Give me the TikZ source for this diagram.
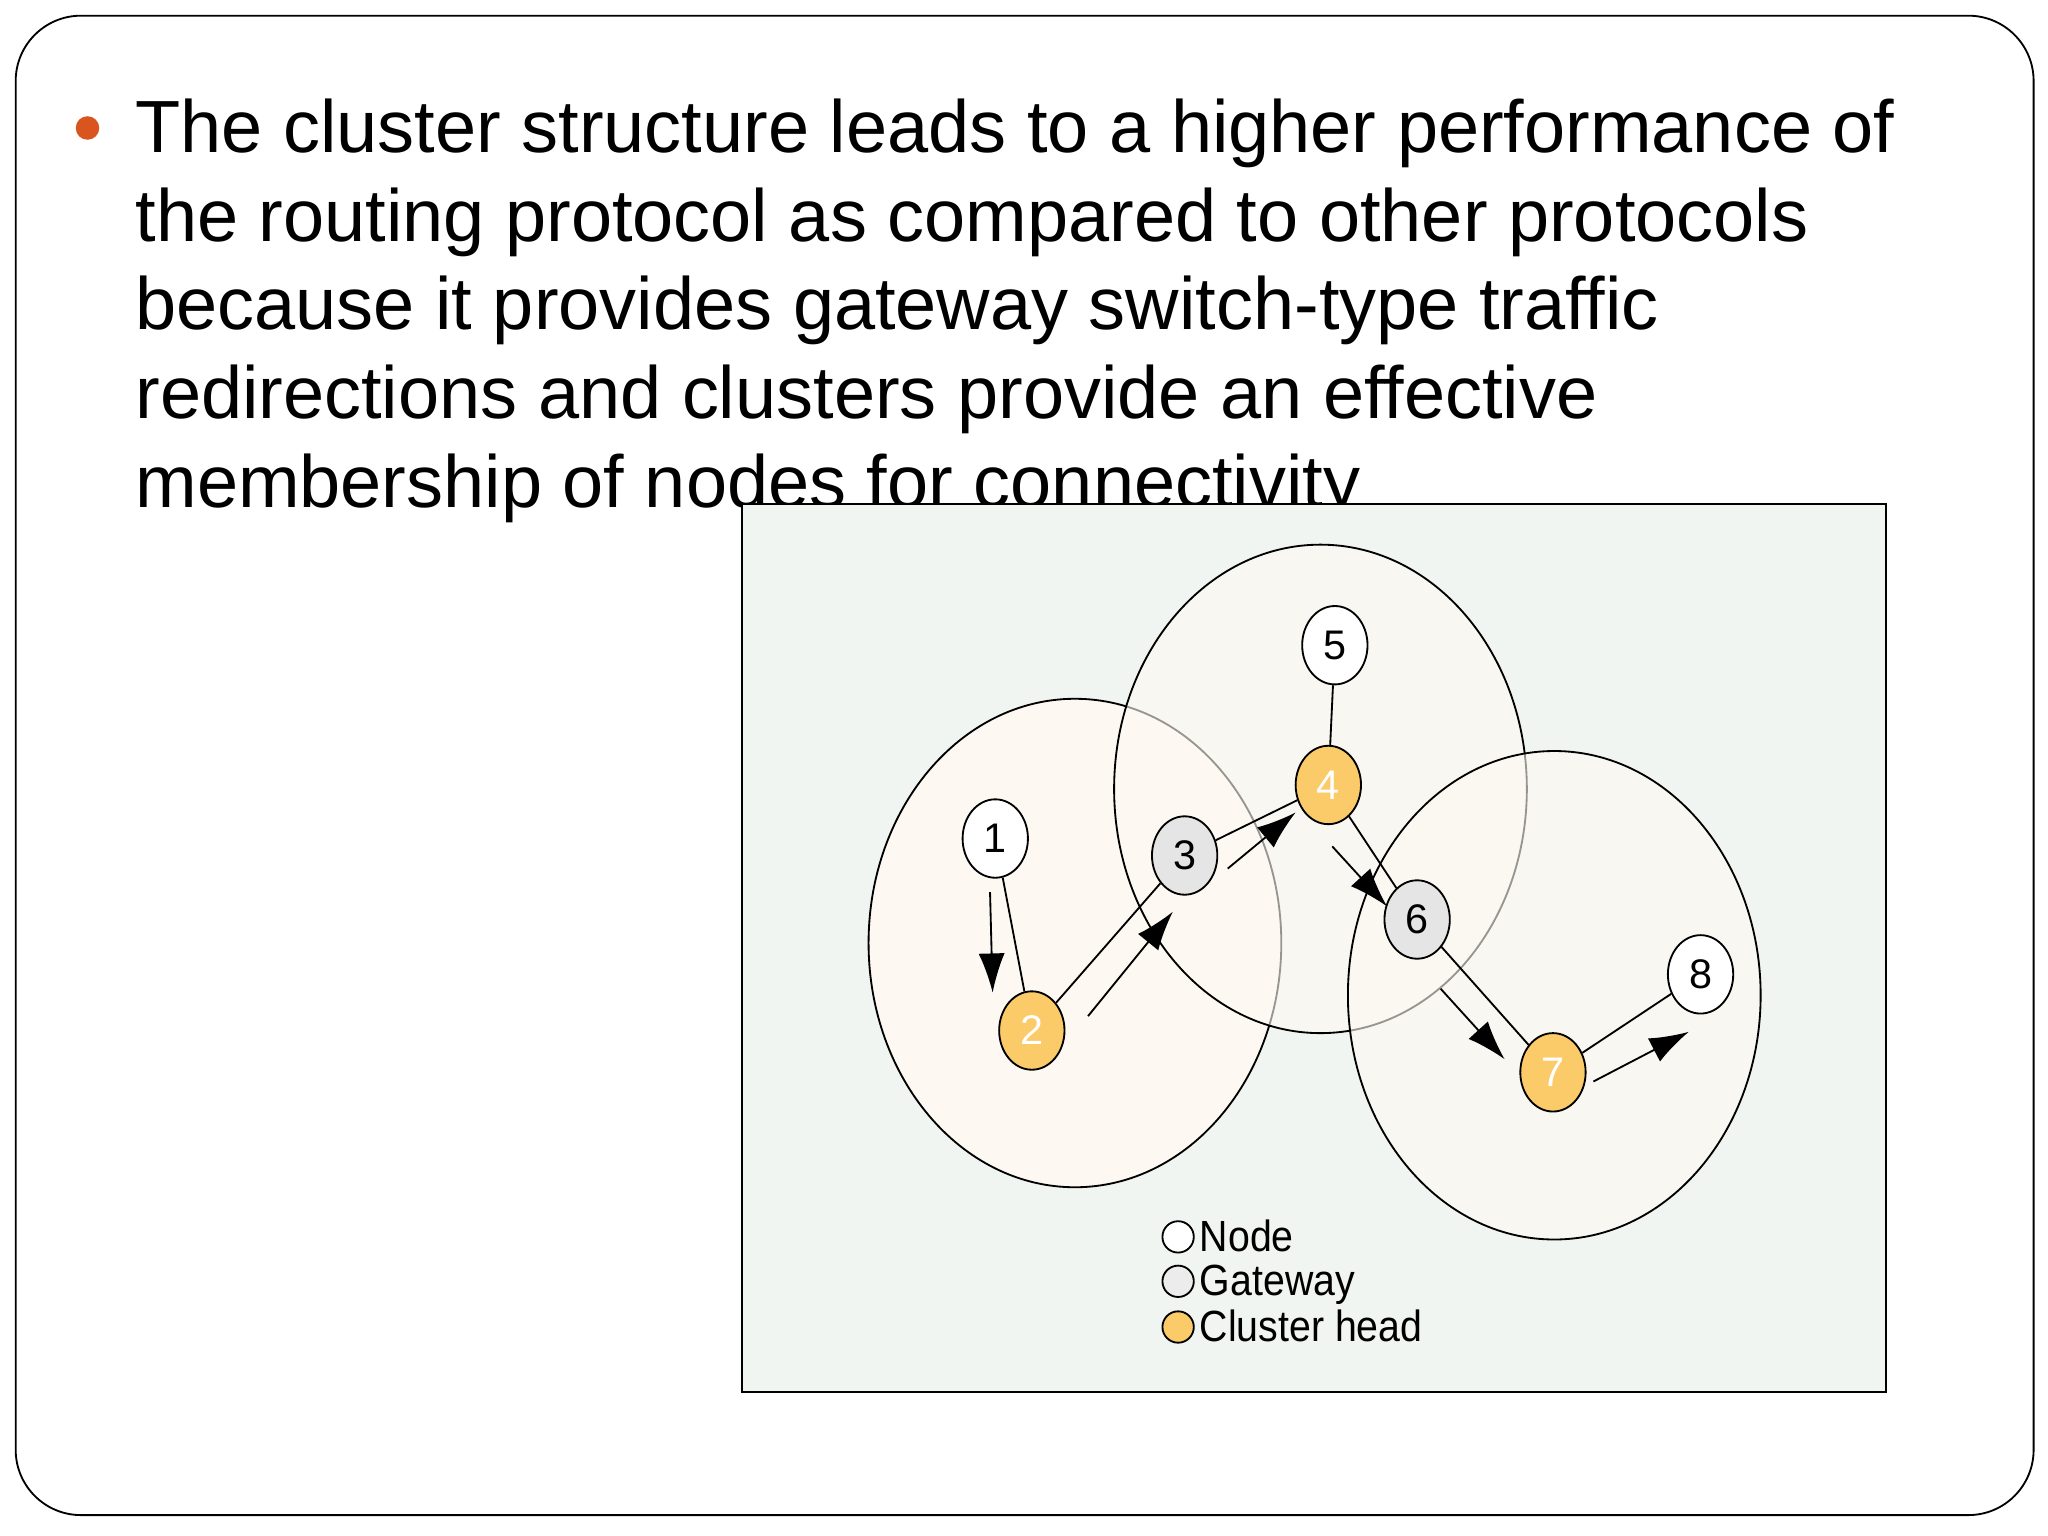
\documentclass[tikz,border=0pt]{standalone}
\usepackage{fontspec}
\setmainfont{Liberation Sans}
\usetikzlibrary{shapes.geometric,arrows.meta}
\definecolor{orng}{HTML}{FBCB6A}
\definecolor{bul}{HTML}{D9541E}
\definecolor{bg}{HTML}{F1F5F2}
\definecolor{cream}{HTML}{FDF9F2}
\begin{document}
\begin{tikzpicture}[x=0.01cm,y=-0.01cm,
  nd/.style={ellipse,draw,thin,minimum width=0.5cm,minimum height=0.6cm,inner sep=0pt,font=\fontsize{9}{9}\selectfont},
  cl/.style={draw,thin,fill=cream},
  ln/.style={thin},
  ar/.style={thin,-{Latex[length=0.3cm,width=0.2cm]}},
  lg/.style={circle,draw,thin,minimum size=0.24cm,inner sep=0pt}]
\useasboundingbox (0,0) rectangle (1568,1176);
\fill[white] (0,0) rectangle (1568,1176);
\draw[rounded corners=0.5cm] (12,12) rectangle (1557,1160);
\fill[bul] (67,98) circle (9);
\node[anchor=north west,align=left,inner sep=0pt,font=\fontsize{16.1}{19.3}\selectfont] at (103,75)
 {The cluster structure leads to a higher performance of\\the routing protocol as compared to other protocols\\because it provides gateway switch-type traffic\\redirections and clusters provide an effective\\membership of nodes for connectivity};
\draw[fill=bg] (568,386) rectangle (1444,1066);
\draw[cl] (823,722) ellipse (158 and 187);
\draw[cl,fill opacity=0.6] (1011,604) ellipse (158 and 187);
\draw[cl,fill opacity=0.6] (1190,762) ellipse (158 and 187);
\node[nd,fill=white] (n1) at (762,642) {1};
\node[nd,fill=orng] (n2) at (790,789) {\textcolor{white}{2}};
\node[nd,fill=gray!20] (n3) at (907,655) {3};
\node[nd,fill=orng] (n4) at (1017,601) {\textcolor{white}{4}};
\node[nd,fill=white] (n5) at (1022,494) {5};
\node[nd,fill=gray!20] (n6) at (1085,704) {6};
\node[nd,fill=orng] (n7) at (1189,821) {\textcolor{white}{7}};
\node[nd,fill=white] (n8) at (1302,746) {8};
\draw[ln] (n1)--(n2) (n2)--(n3) (n3)--(n4) (n4)--(n5) (n4)--(n6) (n6)--(n7) (n7)--(n8);
\coordinate (a1) at (758,683); \coordinate (b1) at (760,760);
\coordinate (a2) at (833,778); \coordinate (b2) at (898,698);
\coordinate (a3) at (940,665); \coordinate (b3) at (992,622);
\coordinate (a4) at (1020,648); \coordinate (b4) at (1062,694);
\coordinate (a5) at (1103,757); \coordinate (b5) at (1152,811);
\coordinate (a6) at (1220,828); \coordinate (b6) at (1293,790);
\foreach \i in {1,...,6} \draw[ar] (a\i)--(b\i);
\node[lg,fill=white] (l1) at (902,947) {};
\node[lg,fill=gray!15] (l2) at (902,981) {};
\node[lg,fill=orng] (l3) at (902,1016) {};
\foreach \i/\t in {1/Node,2/Gateway,3/Cluster head}
  \node[anchor=base west,inner sep=0pt,font=\fontsize{9.5}{9.5}\selectfont,xscale=0.9] at ([xshift=0.16cm,yshift=-0.11cm]l\i.center) {\t};
\end{tikzpicture}
\end{document}
